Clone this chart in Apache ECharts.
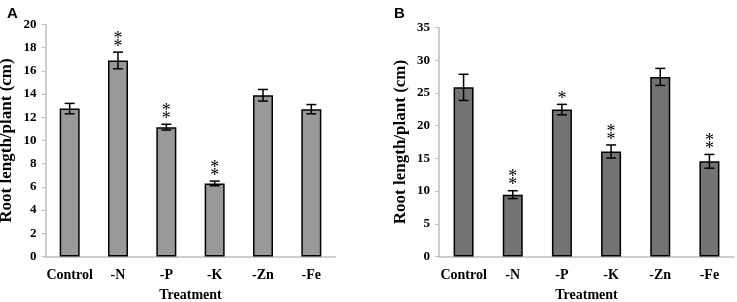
<!DOCTYPE html>
<html>
<head>
<meta charset="utf-8">
<script src="https://cdn.jsdelivr.net/npm/echarts@6/dist/echarts.min.js"></script>
<style>
  html, body { margin: 0; padding: 0; background: #fff; }
  #chart { width: 737px; height: 302px; }
</style>
</head>
<body>
<div id="chart"></div>
<script>
const treatments = ['Control', '-N', '-P', '-K', '-Zn', '-Fe'];

// panel A
const lengthA = [12.75, 16.9, 11.15, 6.3, 13.9, 12.7];
const errA = [0.45, 0.72, 0.25, 0.2, 0.5, 0.4];
const starsA = [0, 2, 2, 2, 0, 0];

// panel B
const lengthB = [25.85, 9.45, 22.45, 16.05, 27.45, 14.55];
const errB = [2.0, 0.6, 0.8, 1.0, 1.3, 1.05];
const starsB = [0, 2, 1, 2, 0, 2];

const serif = '"Liberation Serif", "Times New Roman", serif';
const axisGray = '#bfbfbf';

function errorItem(params, api) {
  const i = api.value(0);
  const v = api.value(1);
  const e = api.value(2);
  const s = api.value(3);
  const top = api.coord([i, v + e]);
  const bot = api.coord([i, v - e]);
  const hw = 5;
  const style = {stroke: '#000', lineWidth: 1.5};
  const children = [
    {type: 'line', shape: {x1: top[0], y1: top[1], x2: bot[0], y2: bot[1]}, style},
    {type: 'line', shape: {x1: top[0] - hw, y1: top[1], x2: top[0] + hw, y2: top[1]}, style},
    {type: 'line', shape: {x1: bot[0] - hw, y1: bot[1], x2: bot[0] + hw, y2: bot[1]}, style},
  ];
  if (s > 0) {
    children.push({
      type: 'text',
      x: top[0],
      y: top[1] - 1,
      style: {
        text: Array(s).fill('*').join('\n'),
        fontFamily: serif,
        fontSize: 18,
        lineHeight: 8,
        fill: '#000',
        align: 'center',
        verticalAlign: 'bottom',
      },
    });
  }
  return {type: 'group', children};
}

function xAxisFor(idx) {
  return {
    type: 'category',
    gridIndex: idx,
    data: treatments,
    name: 'Treatment',
    nameLocation: 'middle',
    nameGap: 32,
    nameTextStyle: {fontFamily: serif, fontWeight: 'bold', fontSize: 14, color: '#000'},
    axisLine: {lineStyle: {color: axisGray, width: 1.5}},
    axisTick: {show: false},
    axisLabel: {interval: 0, fontFamily: serif, fontWeight: 'bold', fontSize: 14, color: '#000', margin: 12},
  };
}

function yAxisFor(idx, max, interval) {
  return {
    type: 'value',
    gridIndex: idx,
    min: 0,
    max: max,
    interval: interval,
    name: 'Root length/plant (cm)',
    nameLocation: 'middle',
    nameGap: 30,
    nameTextStyle: {fontFamily: serif, fontWeight: 'bold', fontSize: 17, color: '#000'},
    axisLine: {show: true, lineStyle: {color: axisGray, width: 1.5}},
    axisTick: {show: true, length: 4, lineStyle: {color: axisGray}},
    axisLabel: {fontFamily: serif, fontWeight: 'bold', fontSize: 13, color: '#000', margin: 9},
    splitLine: {show: false},
  };
}

const chart = echarts.init(document.getElementById('chart'));
chart.setOption({
  animation: false,
  title: [
    {text: 'A', left: 2, top: 1, textStyle: {fontFamily: '"Liberation Sans", Arial, sans-serif', fontWeight: 'bold', fontSize: 15, color: '#000'}},
    {text: 'B', left: 389, top: 1, textStyle: {fontFamily: '"Liberation Sans", Arial, sans-serif', fontWeight: 'bold', fontSize: 15, color: '#000'}},
  ],
  grid: [
    {left: 45.5, top: 24.5, width: 290, height: 232, outerBoundsMode: 'none', containLabel: false},
    {left: 439, top: 27.5, width: 295, height: 229, outerBoundsMode: 'none', containLabel: false},
  ],
  xAxis: [xAxisFor(0), xAxisFor(1)],
  yAxis: [yAxisFor(0, 20, 2), yAxisFor(1, 35, 5)],
  series: [
    {
      type: 'bar',
      xAxisIndex: 0,
      yAxisIndex: 0,
      data: lengthA,
      barWidth: 20,
      itemStyle: {color: '#999999', borderColor: '#000', borderWidth: 1.5},
    },
    {
      type: 'custom',
      xAxisIndex: 0,
      yAxisIndex: 0,
      renderItem: errorItem,
      data: lengthA.map((v, i) => [i, v, errA[i], starsA[i]]),
      z: 5,
    },
    {
      type: 'bar',
      xAxisIndex: 1,
      yAxisIndex: 1,
      data: lengthB,
      barWidth: 20,
      itemStyle: {color: '#737373', borderColor: '#000', borderWidth: 1.5},
    },
    {
      type: 'custom',
      xAxisIndex: 1,
      yAxisIndex: 1,
      renderItem: errorItem,
      data: lengthB.map((v, i) => [i, v, errB[i], starsB[i]]),
      z: 5,
    },
  ],
});
</script>
</body>
</html>
